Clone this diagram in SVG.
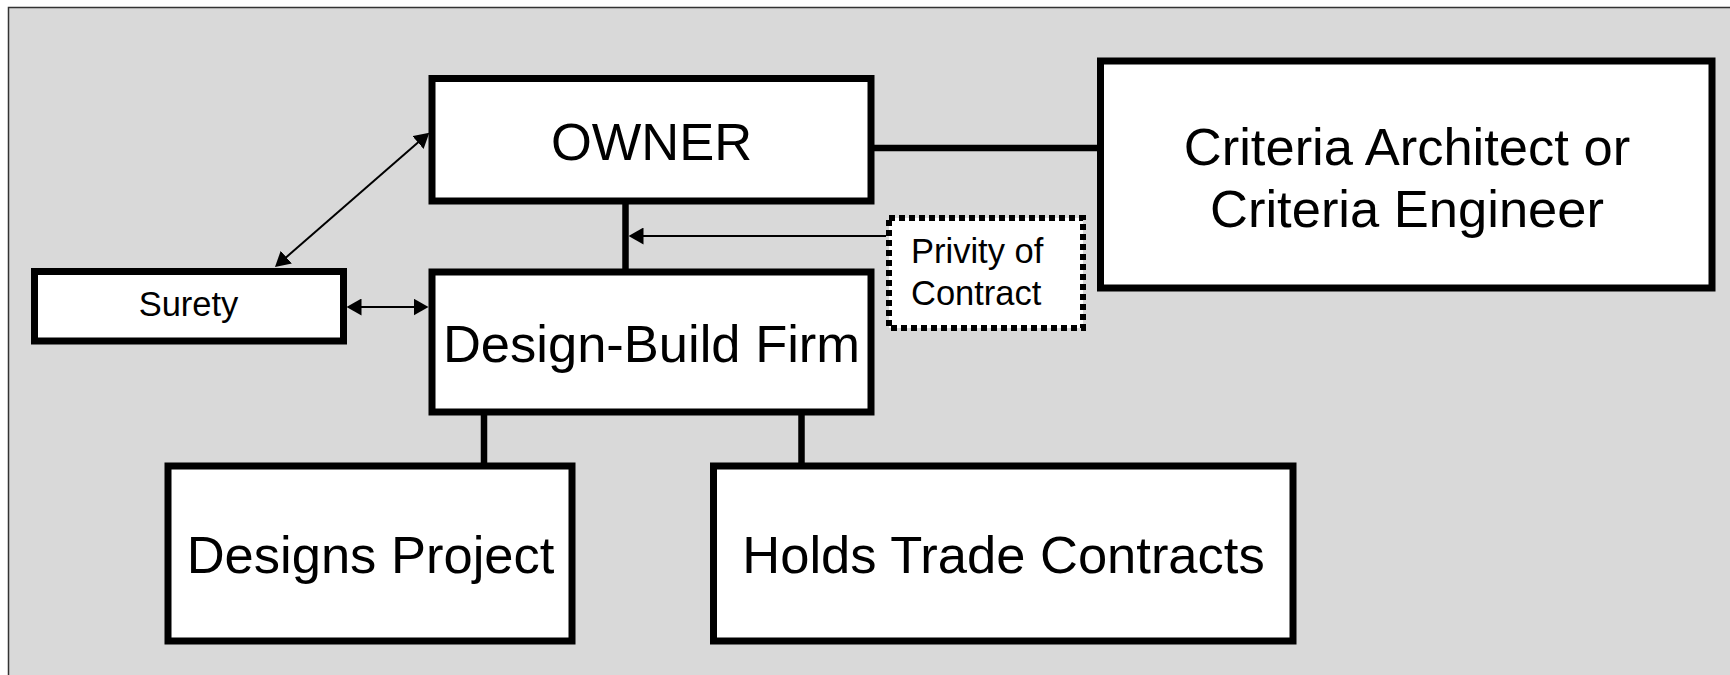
<svg xmlns="http://www.w3.org/2000/svg" width="1730" height="675" viewBox="0 0 1730 675">
  <defs>
    <style>
      .box { fill: #ffffff; stroke: #000000; stroke-width: 7; }
      .dotted { fill: #ffffff; stroke: #000000; stroke-width: 6; stroke-dasharray: 6 4; shape-rendering: crispEdges; }
      .big { font-family: "Liberation Sans", Arial, sans-serif; font-size: 52.5px; fill: #000000; text-anchor: middle; }
      .small { font-family: "Liberation Sans", Arial, sans-serif; font-size: 34.5px; fill: #000000; }
      .thick { stroke: #000000; stroke-width: 6.5; fill: none; }
      .thin { stroke: #000000; stroke-width: 2; fill: none; }
    </style>
    <marker id="arrow" markerUnits="userSpaceOnUse" viewBox="0 0 15 17" markerWidth="15" markerHeight="17" refX="3" refY="8.5" orient="auto-start-reverse">
      <path d="M0,0 L15,8.5 L0,17 z" fill="#000000"/>
    </marker>
  </defs>

  <rect id="background" x="8.5" y="7.5" width="1740" height="700" fill="#d9d9d9" stroke="#333333" stroke-width="1.5"/>

  <g id="connectors">
    <line class="thick" x1="625.5" y1="201" x2="625.5" y2="272"/>
    <line class="thick" x1="871" y1="148" x2="1100" y2="148"/>
    <line class="thick" x1="484" y1="412" x2="484" y2="466"/>
    <line class="thick" x1="801.5" y1="412" x2="801.5" y2="466"/>
    <path class="thin" d="M284.05,259.13 L420.25,140.57" marker-start="url(#arrow)" marker-end="url(#arrow)"/>
    <path class="thin" d="M358.5,307 L416.5,307" marker-start="url(#arrow)" marker-end="url(#arrow)"/>
    <path class="thin" d="M886,236 L640.5,236" marker-end="url(#arrow)"/>
  </g>

  <g id="owner">
    <rect class="box" x="432" y="78.5" width="439" height="122.5"/>
    <text class="big" x="651.5" y="159.5">OWNER</text>
  </g>

  <g id="criteria">
    <rect class="box" x="1100.5" y="61" width="611.5" height="227"/>
    <text class="big" x="1407" y="165">Criteria Architect or</text>
    <text class="big" x="1407" y="227">Criteria Engineer</text>
  </g>

  <g id="privity">
    <rect class="dotted" x="889" y="218" width="194" height="110"/>
    <text class="small" x="911" y="263">Privity of</text>
    <text class="small" x="911" y="305">Contract</text>
  </g>

  <g id="surety">
    <rect class="box" x="34.5" y="271.5" width="309" height="69.5"/>
    <text class="small" x="188.5" y="316" text-anchor="middle">Surety</text>
  </g>

  <g id="design-build">
    <rect class="box" x="432" y="272" width="439" height="140"/>
    <text class="big" x="651.5" y="362">Design-Build Firm</text>
  </g>

  <g id="designs-project">
    <rect class="box" x="168" y="466" width="404" height="175"/>
    <text class="big" x="370.5" y="573">Designs Project</text>
  </g>

  <g id="trade-contracts">
    <rect class="box" x="713.5" y="466" width="579.5" height="175"/>
    <text class="big" x="1003.5" y="573">Holds Trade Contracts</text>
  </g>
</svg>
